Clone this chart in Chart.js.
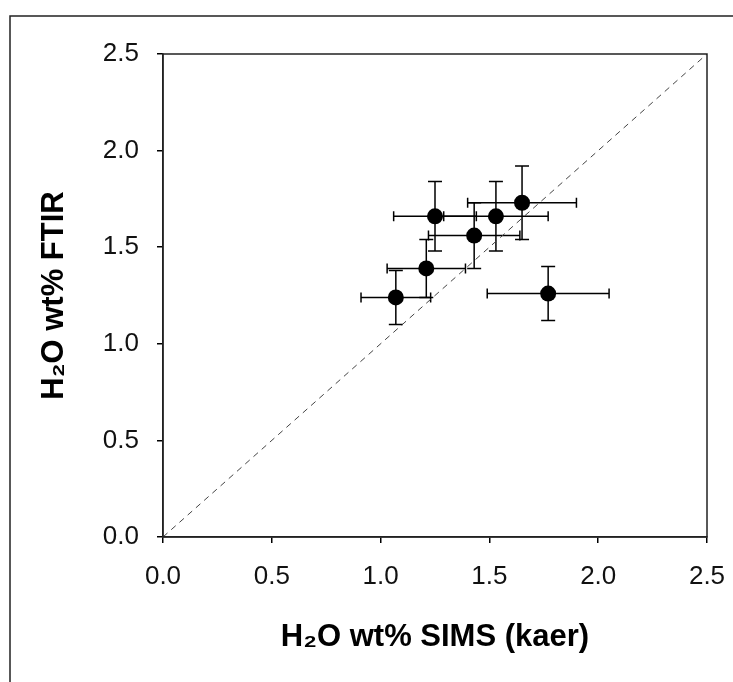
<!DOCTYPE html>
<html><head><meta charset="utf-8">
<script src="https://cdn.jsdelivr.net/npm/chart.js@4"></script>
<style>html,body{margin:0;padding:0;background:#fff;} #wrap{position:relative;width:733px;height:682px;}</style>
</head><body><div id="wrap"><canvas id="c" width="733" height="682"></canvas></div>
<script>
// Data
const xVals = [1.07, 1.21, 1.25, 1.43, 1.53, 1.65, 1.77];
const yVals = [1.24, 1.39, 1.66, 1.56, 1.66, 1.73, 1.26];
const xErr  = [0.16, 0.18, 0.19, 0.21, 0.24, 0.25, 0.28];
const yErr  = [0.14, 0.15, 0.18, 0.17, 0.18, 0.19, 0.14];
const oneToOneX = [0, 2.5];
const oneToOneY = [0, 2.5];
const xTicks = [0, 0.5, 1.0, 1.5, 2.0, 2.5];
const yTicks = [0, 0.5, 1.0, 1.5, 2.0, 2.5];
const xTitle = 'H₂O wt% SIMS (kaer)';
const yTitle = 'H₂O wt% FTIR';

const FONT = "'Liberation Sans', Arial, Helvetica, sans-serif";

const errorBars = {
  id: 'errorBars',
  beforeDatasetsDraw(chart) {
    const ctx = chart.ctx, xs = chart.scales.x, ys = chart.scales.y;
    ctx.save();
    ctx.strokeStyle = '#000';
    ctx.lineWidth = 1.5;
    const capV = 7, capH = 5;
    for (let i = 0; i < xVals.length; i++) {
      const px = xs.getPixelForValue(xVals[i]);
      const py = ys.getPixelForValue(yVals[i]);
      const x1 = xs.getPixelForValue(xVals[i] - xErr[i]);
      const x2 = xs.getPixelForValue(xVals[i] + xErr[i]);
      const y1 = ys.getPixelForValue(yVals[i] - yErr[i]);
      const y2 = ys.getPixelForValue(yVals[i] + yErr[i]);
      ctx.beginPath();
      ctx.moveTo(x1, py); ctx.lineTo(x2, py);
      ctx.moveTo(x1, py - capH); ctx.lineTo(x1, py + capH);
      ctx.moveTo(x2, py - capH); ctx.lineTo(x2, py + capH);
      ctx.moveTo(px, y1); ctx.lineTo(px, y2);
      ctx.moveTo(px - capV, y1); ctx.lineTo(px + capV, y1);
      ctx.moveTo(px - capV, y2); ctx.lineTo(px + capV, y2);
      ctx.stroke();
    }
    ctx.restore();
  }
};

const frame = {
  id: 'frame',
  afterDraw(chart) {
    const ctx = chart.ctx, a = chart.chartArea;
    ctx.save();
    ctx.strokeStyle = '#222';
    ctx.lineWidth = 1.5;
    ctx.strokeRect(a.left, a.top, a.right - a.left, a.bottom - a.top);
    ctx.beginPath();
    ctx.moveTo(10, 682); ctx.lineTo(10, 16); ctx.lineTo(733, 16);
    ctx.stroke();
    ctx.restore();
  }
};

function axis(ticksArr, title, isX) {
  return {
    type: 'linear',
    min: 0, max: 2.5,
    afterBuildTicks: s => { s.ticks = ticksArr.map(v => ({ value: v })); },
    afterFit: s => {
      if (isX) { s.height = 145; s.paddingLeft = 0; s.paddingRight = 0; }
      else { s.width = 163; s.paddingTop = 0; s.paddingBottom = 0; }
    },
    ticks: {
      callback: v => Number(v).toFixed(1),
      font: { family: FONT, size: 26 },
      color: '#111',
      padding: 18,
      maxRotation: 0,
      autoSkip: false
    },
    grid: { drawOnChartArea: false, drawTicks: true, tickLength: 6, color: '#000', lineWidth: 1.5 },
    border: { display: true, color: '#222', width: 1.5 },
    title: {
      display: true, text: title, color: '#000',
      font: { family: FONT, size: 31, weight: 'bold' },
      padding: isX ? { top: 0, bottom: 26 } : { top: 36, bottom: 0 }
    }
  };
}

new Chart(document.getElementById('c'), {
  type: 'scatter',
  data: {
    datasets: [
      {
        label: 'samples',
        data: xVals.map((x, i) => ({ x, y: yVals[i] })),
        pointRadius: 8, pointHoverRadius: 8,
        backgroundColor: '#000', borderColor: '#000', borderWidth: 0,
        order: 0
      },
      {
        label: '1:1',
        data: oneToOneX.map((x, i) => ({ x, y: oneToOneY[i] })),
        showLine: true, pointRadius: 0,
        borderColor: '#444', borderWidth: 1, borderDash: [6, 5],
        order: 1
      }
    ]
  },
  options: {
    responsive: false,
    animation: false,
    devicePixelRatio: 1,
    layout: { padding: { top: 54, right: 26, left: 0, bottom: 0 } },
    plugins: { legend: { display: false }, tooltip: { enabled: false } },
    scales: { x: axis(xTicks, xTitle, true), y: axis(yTicks, yTitle, false) }
  },
  plugins: [errorBars, frame]
});
</script>
</body></html>
